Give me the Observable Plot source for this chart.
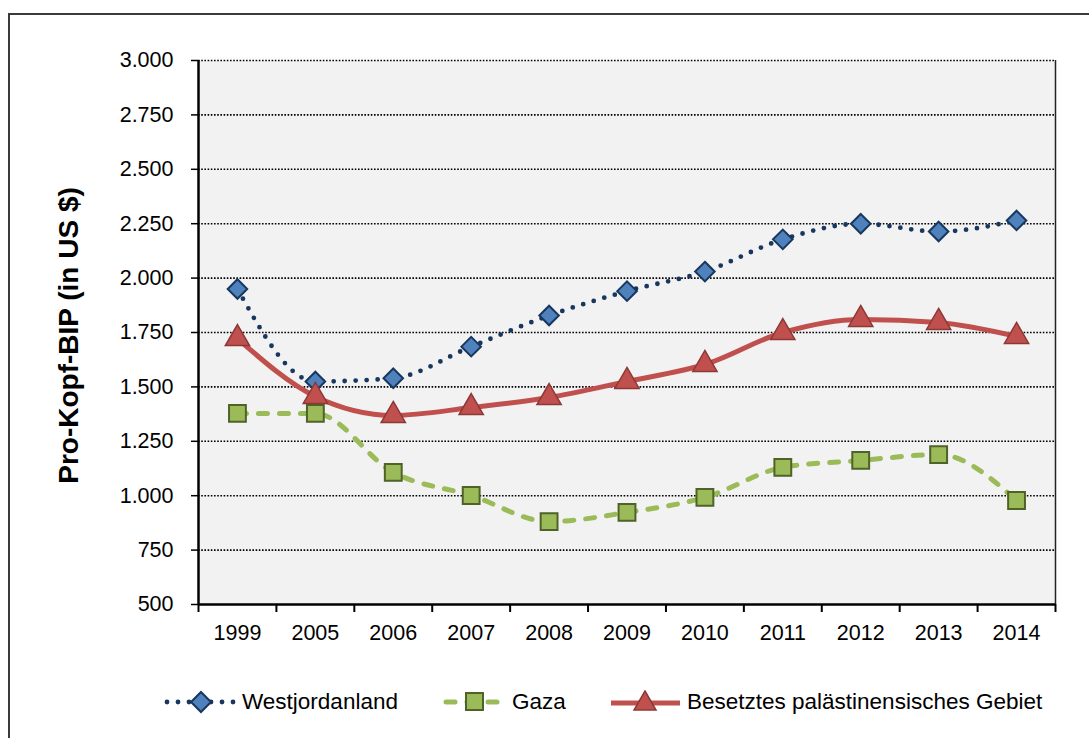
<!DOCTYPE html>
<html>
<head>
<meta charset="utf-8">
<script src="https://cdn.jsdelivr.net/npm/d3@7"></script>
<script src="https://cdn.jsdelivr.net/npm/@observablehq/plot@0.6"></script>
<style>
  html, body { margin: 0; padding: 0; width: 1089px; height: 738px; overflow: hidden; background: #fff; font-family: "Liberation Sans", Arial, sans-serif; }
  #frame { position: absolute; left: 8px; top: 13px; width: 1200px; height: 800px; border: 2px solid #3a3a3a; }
  #chart { position: absolute; left: 0; top: 0; }
  #legend { position: absolute; top: 687px; left: 0; width: 1089px; height: 30px; font-size: 22.5px; color: #000; }
  .item { position: absolute; top: 0; display: flex; align-items: center; height: 30px; }
  .item svg { margin-right: 5px; }
</style>
</head>
<body>
<div id="frame"></div>
<div id="chart"></div>
<div id="legend"></div>
<script>
const years = ["1999","2005","2006","2007","2008","2009","2010","2011","2012","2013","2014"];
const westjordanland = [1950, 1525, 1540, 1685, 1828, 1940, 2030, 2178, 2250, 2214, 2265];
const gaza = [1378, 1378, 1107, 1001, 881, 923, 992, 1130, 1162, 1189, 978];
const besetztes = [1722, 1456, 1369, 1405, 1451, 1525, 1603, 1750, 1810, 1796, 1732];
const yTicks = [500, 750, 1000, 1250, 1500, 1750, 2000, 2250, 2500, 2750, 3000];
const seriesNames = ["Westjordanland", "Gaza", "Besetztes palästinensisches Gebiet"];

const fmt = d3.formatLocale({decimal: ",", thousands: ".", grouping: [3], currency: ["", "$"]}).format(",");
const toRows = vals => vals.map((v, i) => ({i: i + 0.5, year: years[i], v}));
const wb = toRows(westjordanland), gz = toRows(gaza), ob = toRows(besetztes);

const font = "Liberation Sans, Arial, sans-serif";
const curve = {curve: "monotone-x"};
const chart = Plot.plot({
  width: 1089,
  height: 660,
  marginLeft: 198,
  marginRight: 34,
  marginTop: 60,
  marginBottom: 56,
  style: {fontFamily: font, fontSize: "21.5px", color: "#000", background: "transparent", overflow: "visible"},
  x: {type: "linear", domain: [0, years.length]},
  y: {domain: [500, 3000]},
  marks: [
    Plot.frame({fill: "#f2f2f2", stroke: null}),
    Plot.ruleY(yTicks.slice(1), {stroke: "#000", strokeWidth: 1.6, strokeDasharray: "1.6,1.6"}),
    Plot.ruleX([years.length], {stroke: "#222", strokeWidth: 1.5}),
    Plot.axisY({ticks: yTicks, tickSize: 7, tickPadding: 18, tickFormat: fmt, label: null, stroke: "#000", strokeWidth: 1.5, fontSize: 21.5}),
    Plot.axisX({ticks: d3.range(years.length + 1), tickSize: 8, tickFormat: () => "", label: null, stroke: "#000", strokeWidth: 2}),
    Plot.axisX({ticks: d3.range(years.length).map(i => i + 0.5), tickSize: 0, tickPadding: 20, tickFormat: d => years[Math.floor(d)], label: null, fontSize: 21.5}),
    Plot.ruleX([0], {stroke: "#000", strokeWidth: 2.5}),
    Plot.ruleY([500], {stroke: "#000", strokeWidth: 2.5}),
    Plot.text(["Pro-Kopf-BIP (in US $)"], {frameAnchor: "left", textAnchor: "middle", rotate: -90, dx: -129, dy: 3, fontSize: 28, fontWeight: "bold", fill: "#000"}),
    // Gaza
    Plot.line(gz, {x: "i", y: "v", ...curve, stroke: "#9bbb59", strokeWidth: 5, strokeDasharray: "9,12", strokeLinecap: "round"}),
    // Westjordanland
    Plot.line(wb, {x: "i", y: "v", ...curve, stroke: "#17375e", strokeWidth: 4.8, strokeDasharray: "0,11", strokeLinecap: "round"}),
    // Besetztes
    Plot.line(ob, {x: "i", y: "v", ...curve, stroke: "#c0504d", strokeWidth: 5}),
    Plot.dot(gz, {x: "i", y: "v", symbol: "square", r: 9.5, fill: "#9bbb59", stroke: "#4f6228", strokeWidth: 2}),
    Plot.dot(wb, {x: "i", y: "v", symbol: "diamond2", r: 8.8, fill: "#4f81bd", stroke: "#17375e", strokeWidth: 2}),
    Plot.dot(ob, {x: "i", y: "v", symbol: "triangle", r: 9, fill: "#c0504d", stroke: "#8c3836", strokeWidth: 1.5})
  ]
});
document.getElementById("chart").appendChild(chart);

// Legend
const legend = document.getElementById("legend");
const legendDefs = [
  {name: seriesNames[0], left: 163, sw: `<svg width="74" height="24"><line x1="4" y1="12" x2="72" y2="12" stroke="#17375e" stroke-width="4.8" stroke-dasharray="0,11" stroke-linecap="round"/><path d="M38,2 L48,12 L38,22 L28,12 Z" fill="#4f81bd" stroke="#17375e" stroke-width="2"/></svg>`},
  {name: seriesNames[1], left: 441, sw: `<svg width="66" height="24"><line x1="5" y1="12" x2="62" y2="12" stroke="#9bbb59" stroke-width="5" stroke-dasharray="9,12" stroke-linecap="round"/><rect x="25" y="3" width="17" height="17" fill="#9bbb59" stroke="#4f6228" stroke-width="2"/></svg>`},
  {name: seriesNames[2], left: 608, sw: `<svg width="74" height="24"><line x1="3" y1="13" x2="72" y2="13" stroke="#c0504d" stroke-width="5"/><path d="M37,1 L48,20 L26,20 Z" fill="#c0504d" stroke="#8c3836" stroke-width="1.5"/></svg>`}
];
for (const d of legendDefs) {
  const el = document.createElement("div");
  el.className = "item";
  el.style.left = d.left + "px";
  el.innerHTML = d.sw + `<span>${d.name}</span>`;
  legend.appendChild(el);
}
</script>
</body>
</html>
